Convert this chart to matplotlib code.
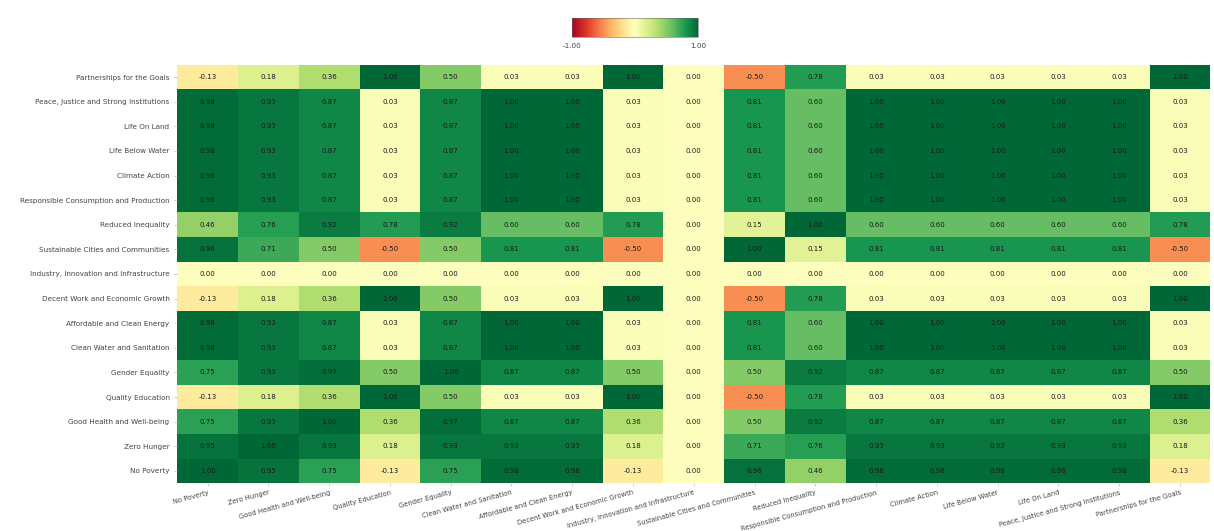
import matplotlib
matplotlib.use("Agg")
import matplotlib.pyplot as plt
import numpy as np

labels = [
    "No Poverty", "Zero Hunger", "Good Health and Well-being", "Quality Education",
    "Gender Equality", "Clean Water and Sanitation", "Affordable and Clean Energy",
    "Decent Work and Economic Growth", "Industry, Innovation and Infrastructure",
    "Sustainable Cities and Communities", "Reduced Inequality",
    "Responsible Consumption and Production", "Climate Action", "Life Below Water",
    "Life On Land", "Peace, Justice and Strong Institutions", "Partnerships for the Goals",
]

# correlation rows, in the order of `labels` (row 0 = No Poverty, drawn at the bottom)
row_no_poverty   = [1.00, 0.95, 0.75, -0.13, 0.75, 0.98, 0.98, -0.13, 0.00, 0.96, 0.46, 0.98, 0.98, 0.98, 0.98, 0.98, -0.13]
row_zero_hunger  = [0.95, 1.00, 0.93, 0.18, 0.93, 0.93, 0.93, 0.18, 0.00, 0.71, 0.76, 0.93, 0.93, 0.93, 0.93, 0.93, 0.18]
row_good_health  = [0.75, 0.93, 1.00, 0.36, 0.97, 0.87, 0.87, 0.36, 0.00, 0.50, 0.92, 0.87, 0.87, 0.87, 0.87, 0.87, 0.36]
row_quality_edu  = [-0.13, 0.18, 0.36, 1.00, 0.50, 0.03, 0.03, 1.00, 0.00, -0.50, 0.78, 0.03, 0.03, 0.03, 0.03, 0.03, 1.00]
row_gender       = [0.75, 0.93, 0.97, 0.50, 1.00, 0.87, 0.87, 0.50, 0.00, 0.50, 0.92, 0.87, 0.87, 0.87, 0.87, 0.87, 0.50]
row_clean_water  = [0.98, 0.93, 0.87, 0.03, 0.87, 1.00, 1.00, 0.03, 0.00, 0.81, 0.60, 1.00, 1.00, 1.00, 1.00, 1.00, 0.03]
row_energy       = [0.98, 0.93, 0.87, 0.03, 0.87, 1.00, 1.00, 0.03, 0.00, 0.81, 0.60, 1.00, 1.00, 1.00, 1.00, 1.00, 0.03]
row_decent_work  = [-0.13, 0.18, 0.36, 1.00, 0.50, 0.03, 0.03, 1.00, 0.00, -0.50, 0.78, 0.03, 0.03, 0.03, 0.03, 0.03, 1.00]
row_industry     = [0.00, 0.00, 0.00, 0.00, 0.00, 0.00, 0.00, 0.00, 0.00, 0.00, 0.00, 0.00, 0.00, 0.00, 0.00, 0.00, 0.00]
row_cities       = [0.96, 0.71, 0.50, -0.50, 0.50, 0.81, 0.81, -0.50, 0.00, 1.00, 0.15, 0.81, 0.81, 0.81, 0.81, 0.81, -0.50]
row_inequality   = [0.46, 0.76, 0.92, 0.78, 0.92, 0.60, 0.60, 0.78, 0.00, 0.15, 1.00, 0.60, 0.60, 0.60, 0.60, 0.60, 0.78]
row_consumption  = [0.98, 0.93, 0.87, 0.03, 0.87, 1.00, 1.00, 0.03, 0.00, 0.81, 0.60, 1.00, 1.00, 1.00, 1.00, 1.00, 0.03]
row_climate      = [0.98, 0.93, 0.87, 0.03, 0.87, 1.00, 1.00, 0.03, 0.00, 0.81, 0.60, 1.00, 1.00, 1.00, 1.00, 1.00, 0.03]
row_below_water  = [0.98, 0.93, 0.87, 0.03, 0.87, 1.00, 1.00, 0.03, 0.00, 0.81, 0.60, 1.00, 1.00, 1.00, 1.00, 1.00, 0.03]
row_on_land      = [0.98, 0.93, 0.87, 0.03, 0.87, 1.00, 1.00, 0.03, 0.00, 0.81, 0.60, 1.00, 1.00, 1.00, 1.00, 1.00, 0.03]
row_peace        = [0.98, 0.93, 0.87, 0.03, 0.87, 1.00, 1.00, 0.03, 0.00, 0.81, 0.60, 1.00, 1.00, 1.00, 1.00, 1.00, 0.03]
row_partnerships = [-0.13, 0.18, 0.36, 1.00, 0.50, 0.03, 0.03, 1.00, 0.00, -0.50, 0.78, 0.03, 0.03, 0.03, 0.03, 0.03, 1.00]

rows = [row_no_poverty, row_zero_hunger, row_good_health, row_quality_edu, row_gender,
        row_clean_water, row_energy, row_decent_work, row_industry, row_cities,
        row_inequality, row_consumption, row_climate, row_below_water, row_on_land,
        row_peace, row_partnerships]

data = np.array(rows)
n = len(labels)

fig = plt.figure(figsize=(12.14, 5.31), dpi=100)
ax = fig.add_axes([0.146, 0.090, 0.851, 0.788])
cmap = plt.get_cmap("RdYlGn")
mesh = ax.pcolormesh(np.arange(n + 1), np.arange(n + 1), data, cmap=cmap, vmin=-1, vmax=1)
ax.set_xlim(0, n)
ax.set_ylim(0, n)

for i in range(n):
    for j in range(n):
        ax.text(j + 0.5, i + 0.5, f"{data[i, j]:.2f}", ha="center", va="center",
                fontsize=5, color="#1a1a1a")

ax.set_xticks(np.arange(n) + 0.5)
ax.set_yticks(np.arange(n) + 0.5)
ax.set_xticklabels(labels, rotation=15, ha="right", rotation_mode="anchor")
ax.set_yticklabels(labels)
ax.tick_params(axis="y", labelsize=5.2, length=2.5, width=0.5, color="#bbbbbb",
               labelcolor="#444444", pad=3)
ax.tick_params(axis="x", labelsize=4.9, length=2.5, width=0.5, color="#bbbbbb",
               labelcolor="#444444", pad=2)
for s in ax.spines.values():
    s.set_visible(False)

cax = fig.add_axes([0.471, 0.930, 0.104, 0.036])
cb = fig.colorbar(mesh, cax=cax, orientation="horizontal", ticks=[-1, 1])
cb.ax.set_xticklabels(["-1.00", "1.00"])
cb.ax.tick_params(labelsize=5.2, length=0, labelcolor="#444444", pad=4)
cb.outline.set_linewidth(0.4)
cb.outline.set_edgecolor("#666666")

fig.savefig("out.png", dpi=100)
